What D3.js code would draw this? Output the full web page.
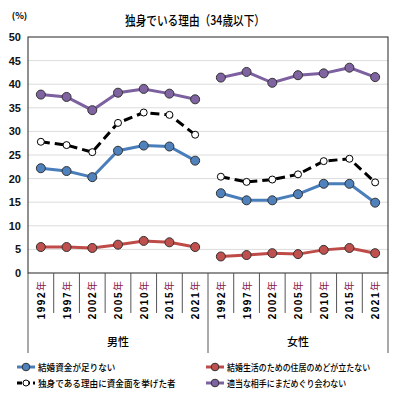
<!DOCTYPE html>
<html>
<head>
<meta charset="utf-8">
<script src="https://d3js.org/d3.v7.min.js"></script>
<style>
	body { margin: 0; background: #fff; }
	svg { font-family: "Noto Sans CJK JP", sans-serif; }
	.num { font-family: "Liberation Sans Narrow", "Liberation Sans", sans-serif; }
</style>
</head>
<body>
<svg width="397" height="397"></svg>
<script>
// data
var years = ["1992", "1997", "2002", "2005", "2010", "2015", "2021"];
var groups = ["男性", "女性"];
var yTicks = [0, 5, 10, 15, 20, 25, 30, 35, 40, 45, 50];

var shikin = [22.2, 21.6, 20.3, 25.9, 27.0, 26.8, 23.8, 16.9, 15.4, 15.4, 16.7, 18.9, 18.9, 14.9];
var jukyo = [5.5, 5.5, 5.3, 6.0, 6.8, 6.5, 5.5, 3.5, 3.8, 4.2, 4.0, 4.9, 5.3, 4.2];
var shikinmen = [27.8, 27.1, 25.6, 31.8, 34.0, 33.5, 29.3, 20.4, 19.3, 19.8, 20.9, 23.7, 24.2, 19.2];
var aite = [37.8, 37.3, 34.5, 38.2, 39.0, 38.0, 36.8, 41.4, 42.6, 40.3, 41.9, 42.3, 43.5, 41.5];

var series = [
	{name: "結婚資金が足りない", values: shikin, color: "#4a7ebb", fill: "#4f81bd", dash: null},
	{name: "結婚生活のための住居のめどが立たない", values: jukyo, color: "#be4b48", fill: "#c0504d", dash: null},
	{name: "独身である理由に資金面を挙げた者", values: shikinmen, color: "#000", fill: "#fff", dash: "9,5"},
	{name: "適当な相手にまだめぐり会わない", values: aite, color: "#7d60a0", fill: "#8064a2", dash: null}
];

var cats = [];
groups.forEach(function(g) { years.forEach(function(y) { cats.push(g + y); }); });

var svg = d3.select("svg");
var pLeft = 28, pRight = 388, pTop = 37, pBottom = 273;

var x = d3.scaleBand().domain(cats).range([pLeft, pRight]);
var y = d3.scaleLinear().domain([0, 50]).range([pBottom, pTop]);

// gridlines
svg.append("g").selectAll("line").data(yTicks.slice(1, -1)).enter().append("line")
	.attr("x1", pLeft).attr("x2", pRight)
	.attr("y1", function(d) { return y(d); }).attr("y2", function(d) { return y(d); })
	.attr("stroke", "#dcdcdc").attr("stroke-width", 1);

// box
svg.append("rect").attr("x", pLeft).attr("y", pTop).attr("width", pRight - pLeft).attr("height", pBottom - pTop)
	.attr("fill", "none").attr("stroke", "#222").attr("stroke-width", 1);

// y tick labels
svg.append("g").selectAll("text").data(yTicks).enter().append("text")
	.attr("class", "num")
	.attr("x", 21).attr("y", function(d) { return y(d) + 4; })
	.attr("text-anchor", "end").attr("font-size", 11).attr("font-weight", "bold").attr("fill", "#111")
	.text(function(d) { return d; });

svg.append("text").attr("x", 19.5).attr("y", 19).attr("text-anchor", "middle")
	.attr("font-size", 9).attr("font-weight", "bold").text("(%)");

svg.append("text").attr("x", 125).attr("y", 25)
	.attr("font-size", 13).attr("font-weight", 500).attr("textLength", 140).attr("lengthAdjust", "spacingAndGlyphs")
	.text("独身でいる理由（34歳以下）");

// x ticks
var bounds = cats.map(function(c) { return x(c); }).concat([pRight]);
svg.append("g").selectAll("line").data(bounds).enter().append("line")
	.attr("x1", function(d) { return d; }).attr("x2", function(d) { return d; })
	.attr("y1", pBottom)
	.attr("y2", function(d, i) { return (i % 7 == 0) ? 353 : 313; })
	.attr("stroke", "#555").attr("stroke-width", 1);

// year labels
var yl = svg.append("g").selectAll("text").data(cats).enter().append("text")
	.attr("transform", function(d) { return "translate(" + (x(d) + x.bandwidth() / 2 + 4) + ",281) rotate(-90)"; })
	.attr("text-anchor", "end").attr("font-size", 10).attr("font-weight", "bold");
yl.append("tspan").attr("font-family", "Liberation Sans, sans-serif").attr("letter-spacing", 1.5)
	.text(function(d) { return d.slice(2); });
yl.append("tspan").attr("fill", "#8b1a4a").attr("font-weight", "normal").text("年");

// group labels
svg.append("g").selectAll("text").data(groups).enter().append("text")
	.attr("x", function(d) { return (x(d + years[0]) + x(d + years[6]) + x.bandwidth()) / 2; })
	.attr("y", 346).attr("text-anchor", "middle").attr("font-size", 11).attr("font-weight", 500)
	.text(function(d) { return d; });

// lines
var line = d3.line()
	.x(function(d) { return x(d.c) + x.bandwidth() / 2; })
	.y(function(d) { return y(d.v); });

series.forEach(function(s) {
	groups.forEach(function(g, gi) {
		var pts = years.map(function(yr, i) { return {c: g + yr, v: s.values[gi * 7 + i]}; });
		svg.append("path").datum(pts).attr("d", line)
			.attr("fill", "none").attr("stroke", s.color).attr("stroke-width", 3)
			.attr("stroke-dasharray", s.dash);
		svg.append("g").selectAll("circle").data(pts).enter().append("circle")
			.attr("cx", function(d) { return x(d.c) + x.bandwidth() / 2; })
			.attr("cy", function(d) { return y(d.v); })
			.attr("r", s.dash ? 3.5 : 4.5)
			.attr("fill", s.fill)
			.attr("stroke", s.dash ? "#000" : "#333").attr("stroke-width", 1);
	});
});

// legend
var legPos = [[17, 367], [206, 367], [17, 383], [206, 383]];
var legW = [8.6, 7.95, 8.6, 7.95];
series.forEach(function(s, i) {
	var lg = svg.append("g").attr("transform", "translate(" + legPos[i][0] + "," + legPos[i][1] + ")");
	lg.append("line").attr("x1", 0).attr("x2", 18).attr("y1", 0).attr("y2", 0)
		.attr("stroke", s.color).attr("stroke-width", 3).attr("stroke-dasharray", s.dash ? "5,3" : null);
	lg.append("circle").attr("cx", 9).attr("cy", 0).attr("r", s.dash ? 3 : 3.8)
		.attr("fill", s.fill).attr("stroke", s.dash ? "#000" : "#333").attr("stroke-width", 1);
	lg.append("text").attr("x", 21).attr("y", 4).attr("font-size", 9.5).attr("font-weight", 500)
		.attr("textLength", s.name.length * legW[i]).attr("lengthAdjust", "spacingAndGlyphs")
		.text(s.name);
});
</script>
</body>
</html>
